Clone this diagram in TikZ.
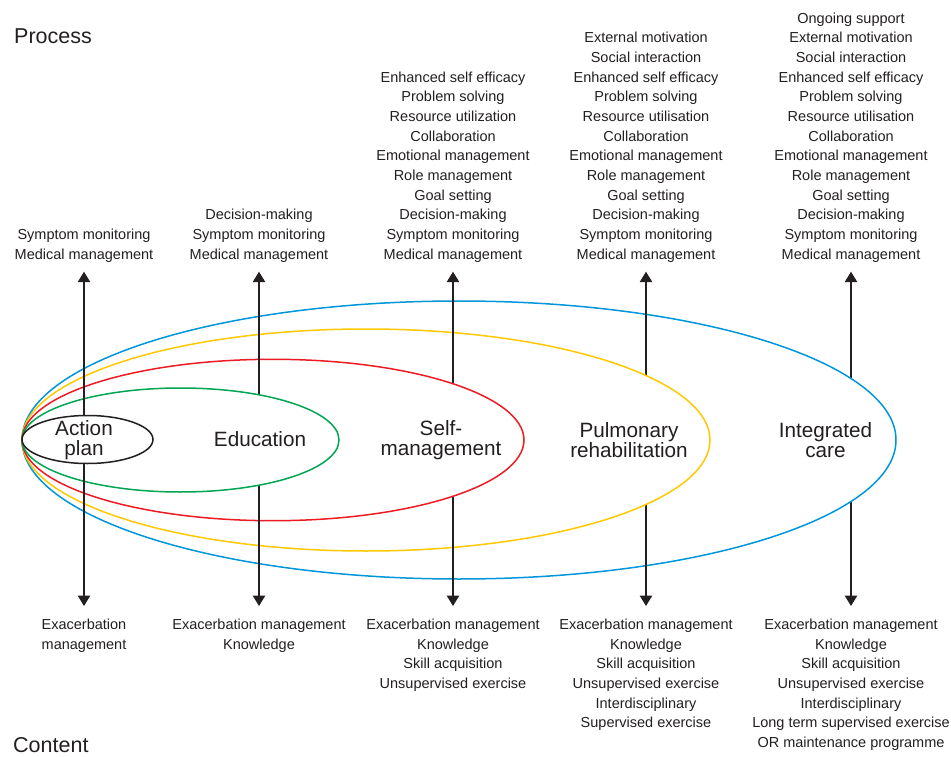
\documentclass[tikz,border=0pt]{standalone}
\usepackage{fontspec}
\setmainfont{Liberation Sans}
\usetikzlibrary{arrows.meta}
\definecolor{ink}{HTML}{231F20}
\definecolor{cblue}{HTML}{0096DB}
\definecolor{cyellow}{HTML}{FFC800}
\definecolor{cred}{HTML}{ED1C24}
\definecolor{cgreen}{HTML}{00A651}
\begin{document}
\begin{tikzpicture}[x=1pt,y=-1pt,
 list/.style={align=center, inner sep=0pt, text=ink, font=\fontsize{14.5}{19.67}\selectfont},
 toplist/.style={list, anchor=south},
 botlist/.style={list, anchor=north},
 big/.style={align=center, inner sep=0pt, text=ink, anchor=north, font=\fontsize{20.7}{20.5}\selectfont},
 head/.style={inner sep=0pt, text=ink, font=\fontsize{21.5}{24}\selectfont, anchor=base west},
 arr/.style={draw=ink, line width=1.3pt, {Triangle[length=10.5pt,width=12.5pt]}-{Triangle[length=10.5pt,width=12.5pt]}},
 ring/.style={line width=1.5pt, fill=white}]
\useasboundingbox (0,0) rectangle (951,757);

% headings
\node[head] (process) at (14,44) {Process};
\node[head] (content) at (13,752.5) {Content};

% process lists (top)
\node[toplist] (t1) at (84,262.3) {Symptom monitoring\\Medical management};
\node[toplist] (t2) at (259,262.3) {Decision-making\\Symptom monitoring\\Medical management};
\node[toplist] (t3) at (453,262.3) {Enhanced self efficacy\\Problem solving\\Resource utilization\\Collaboration\\Emotional management\\Role management\\Goal setting\\Decision-making\\Symptom monitoring\\Medical management};
\node[toplist] (t4) at (646,262.3) {External motivation\\Social interaction\\Enhanced self efficacy\\Problem solving\\Resource utilisation\\Collaboration\\Emotional management\\Role management\\Goal setting\\Decision-making\\Symptom monitoring\\Medical management};
\node[toplist] (t5) at (851,262.3) {Ongoing support\\External motivation\\Social interaction\\Enhanced self efficacy\\Problem solving\\Resource utilisation\\Collaboration\\Emotional management\\Role management\\Goal setting\\Decision-making\\Symptom monitoring\\Medical management};

% content lists (bottom)
\node[botlist] (b1) at (84,618.9) {Exacerbation\\management};
\node[botlist] (b2) at (259,618.9) {Exacerbation management\\Knowledge};
\node[botlist] (b3) at (453,618.9) {Exacerbation management\\Knowledge\\Skill acquisition\\Unsupervised exercise};
\node[botlist] (b4) at (646,618.9) {Exacerbation management\\Knowledge\\Skill acquisition\\Unsupervised exercise\\Interdisciplinary\\Supervised exercise};
\node[botlist] (b5) at (851,618.9) {Exacerbation management\\Knowledge\\Skill acquisition\\Unsupervised exercise\\Interdisciplinary\\Long term supervised exercise\\OR maintenance programme};

% arrows and nested ellipses (each ellipse hides the middle of its own arrow)
\draw[arr] ([yshift=-9.4pt]t5.south) -- ([yshift=12.9pt]b5.north);
\draw[ring, draw=cblue] (459,440) ellipse [x radius=437, y radius=139];
\draw[arr] ([yshift=-9.4pt]t4.south) -- ([yshift=12.9pt]b4.north);
\draw[ring, draw=cyellow] (366,440) ellipse [x radius=344, y radius=111];
\draw[arr] ([yshift=-9.4pt]t3.south) -- ([yshift=12.9pt]b3.north);
\draw[ring, draw=cred] (273,440) ellipse [x radius=251, y radius=80.7];
\draw[arr] ([yshift=-9.4pt]t2.south) -- ([yshift=12.9pt]b2.north);
\draw[ring, draw=cgreen] (180.5,440) ellipse [x radius=158.5, y radius=52];
\draw[arr] ([yshift=-9.4pt]t1.south) -- ([yshift=12.9pt]b1.north);
\draw[ring, draw=ink] (87.5,439.5) ellipse [x radius=65.5, y radius=24];

% ellipse labels
\node[big] (action) at (84,420) {Action\\plan};
\node[big] (education) at (260,431.7) {Education};
\node[big] (selfman) at (441,420) {Self-\\management};
\node[big] (pulmonary) at (629,422) {Pulmonary\\rehabilitation};
\node[big] (integrated) at (825.5,422) {Integrated\\care};
\end{tikzpicture}
\end{document}
